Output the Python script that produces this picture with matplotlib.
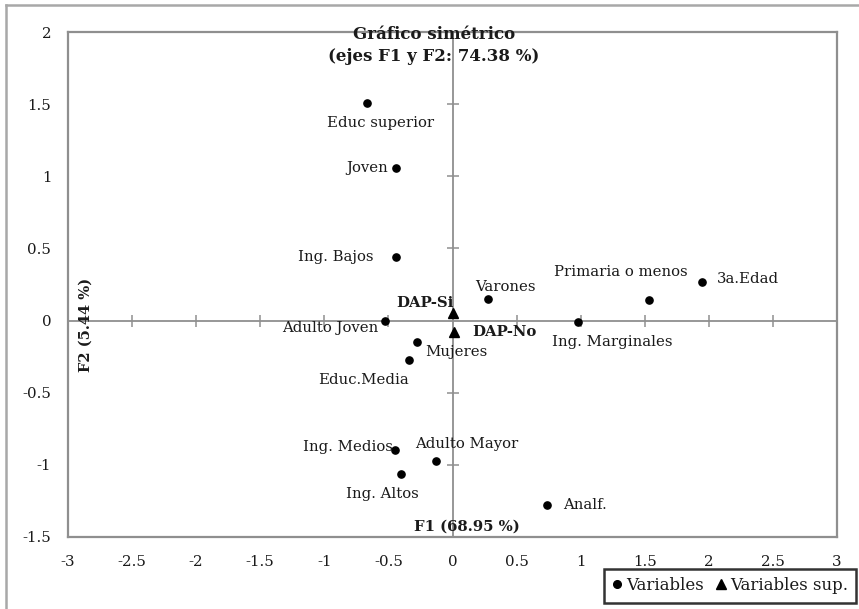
import matplotlib
matplotlib.use("Agg")
import matplotlib.pyplot as plt
from matplotlib.lines import Line2D

# ---------------- data ----------------
var_names = ["Educ superior", "Joven", "Ing. Bajos", "Varones", "Primaria o menos",
             "3a.Edad", "Ing. Marginales", "Adulto Joven", "Mujeres", "Educ.Media",
             "Ing. Medios", "Adulto Mayor", "Ing. Altos", "Analf."]
var_f1 = [-0.67, -0.44, -0.44, 0.28, 1.53, 1.95, 0.98, -0.53, -0.28, -0.34,
          -0.45, -0.13, -0.40, 0.74]
var_f2 = [1.51, 1.06, 0.44, 0.15, 0.14, 0.27, -0.01, 0.00, -0.15, -0.27,
          -0.90, -0.97, -1.06, -1.28]

sup_names = ["DAP-Si", "DAP-No"]
sup_f1 = [0.00, 0.01]
sup_f2 = [0.05, -0.08]

x_ticks = [-3, -2.5, -2, -1.5, -1, -0.5, 0, 0.5, 1, 1.5, 2, 2.5, 3]
y_ticks = [-1.5, -1, -0.5, 0, 0.5, 1, 1.5, 2]

title_text = "Gráfico simétrico\n(ejes F1 y F2: 74.38 %)"
f1_label = "F1 (68.95 %)"
f2_label = "F2 (5.44 %)"

# label placement (offset in pixels, horizontal alignment)
var_offsets = [(14, -20, "center"), (-8, 0, "right"), (-23, 0, "right"),
               (17, 12, "center"), (-28, 28, "center"), (14, 3, "left"),
               (34, -20, "center"), (-6, -7, "right"), (9, -10, "left"),
               (0, -20, "right"), (-2, 3, "right"), (31, 17, "center"),
               (-19, -20, "center"), (16, 0, "left")]
sup_offsets = [(1, 10, "right"), (18, 0, "left")]

# ---------------- figure ----------------
W, H = 859, 609
fig = plt.figure(figsize=(W / 100, H / 100), dpi=100)
fig.patch.set_facecolor("white")

font = "DejaVu Serif"
txtc = "#1a1a1a"
gray = "#8f8f8f"

pos = [68 / W, 1 - 537 / H, (837 - 68) / W, (537 - 32) / H]

# zero axes with crossing ticks
ax0 = fig.add_axes(pos, zorder=1)
ax0.set_xlim(-3, 3)
ax0.set_ylim(-1.5, 2)
for s in ["top", "right"]:
    ax0.spines[s].set_visible(False)
ax0.spines["left"].set_position(("data", 0))
ax0.spines["bottom"].set_position(("data", 0))
for s in ["left", "bottom"]:
    ax0.spines[s].set_color(gray)
    ax0.spines[s].set_linewidth(1.3)
ax0.set_xticks([t for t in x_ticks if t != 0 and abs(t) != 3])
ax0.set_yticks([t for t in y_ticks if t != 0 and t not in (-1.5, 2)])
ax0.tick_params(direction="inout", length=9, width=1.1, color=gray,
                labelbottom=False, labelleft=False)
ax0.patch.set_visible(False)

# main axes with frame, tick labels, points
ax = fig.add_axes(pos, zorder=2)
ax.patch.set_visible(False)
ax.set_xlim(-3, 3)
ax.set_ylim(-1.5, 2)
ax.set_xticks(x_ticks)
ax.set_yticks(y_ticks)
ax.set_xticklabels([f"{t:g}" for t in x_ticks])
ax.set_yticklabels([f"{t:g}" for t in y_ticks])
ax.tick_params(length=0, labelsize=10.8, labelcolor=txtc)
ax.tick_params(axis="x", pad=13)
ax.tick_params(axis="y", pad=12)
for lab in ax.get_xticklabels() + ax.get_yticklabels():
    lab.set_family(font)
for s in ax.spines.values():
    s.set_color(gray)
    s.set_linewidth(1.6)

ax.plot(var_f1, var_f2, "o", color="black", markersize=5.2, linestyle="none")
ax.plot(sup_f1, sup_f2, "^", color="black", markersize=6.5, linestyle="none")

for n, x, y, (dx, dy, ha) in zip(var_names, var_f1, var_f2, var_offsets):
    ax.annotate(n, (x, y), xytext=(dx, dy), textcoords="offset pixels",
                ha=ha, va="center", fontsize=10.7, family=font, color=txtc)
for n, x, y, (dx, dy, ha) in zip(sup_names, sup_f1, sup_f2, sup_offsets):
    ax.annotate(n, (x, y), xytext=(dx, dy), textcoords="offset pixels",
                ha=ha, va="center", fontsize=10.7, family=font,
                fontweight="bold", color=txtc)

# title and axis labels
fig.text(434 / W, 1 - 45.5 / H, title_text, ha="center", va="center",
         fontsize=12, fontweight="bold", family=font, color=txtc,
         linespacing=1.35, zorder=5)
fig.text(467 / W, 1 - 527 / H, f1_label, ha="center", va="center",
         fontsize=10.7, fontweight="bold", family=font, color=txtc, zorder=5)
fig.text(86 / W, 1 - 325 / H, f2_label, ha="center", va="center",
         rotation=90, fontsize=10.5, fontweight="bold", family=font,
         color=txtc, zorder=5)

# outer frame (top and left)
fig.add_artist(Line2D([6 / W, 1.01], [1 - 5 / H, 1 - 5 / H],
                      transform=fig.transFigure, color="#a8a8a8", lw=1.8))
fig.add_artist(Line2D([6 / W, 6 / W], [1 - 5 / H, -0.01],
                      transform=fig.transFigure, color="#a8a8a8", lw=1.8))

# legend
handles = [Line2D([], [], marker="o", color="black", linestyle="none", markersize=5.5),
           Line2D([], [], marker="^", color="black", linestyle="none", markersize=7)]
leg = fig.legend(handles, ["Variables", "Variables sup."], loc="upper right",
                 bbox_to_anchor=(856 / W, 1 - 569 / H), ncol=2, frameon=True,
                 fancybox=False, handlelength=0.6, handletextpad=0.25,
                 columnspacing=0.7, borderpad=0.5, borderaxespad=0,
                 prop={"family": font, "size": 12})
leg.get_frame().set_edgecolor("black")
leg.get_frame().set_linewidth(1.8)
for t in leg.get_texts():
    t.set_color(txtc)

fig.savefig("out.png", dpi=100, facecolor="white")
